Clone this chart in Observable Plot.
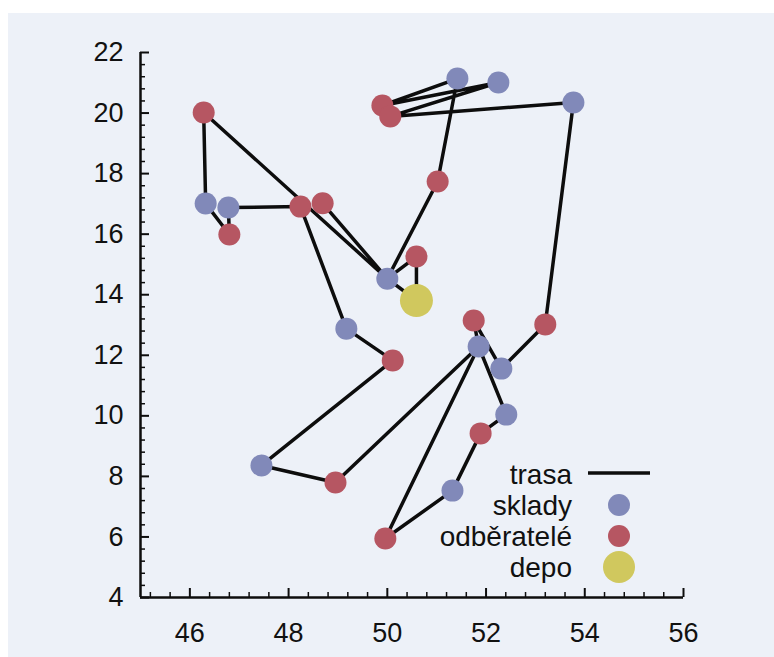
<!DOCTYPE html>
<html><head><meta charset="utf-8">
<script src="https://cdn.jsdelivr.net/npm/d3@7"></script>
<script src="https://cdn.jsdelivr.net/npm/@observablehq/plot@0.6"></script>
<style>
body{margin:0;background:#fff;}
#wrap{position:relative;width:774px;height:657px;background:#fff;overflow:hidden;font-family:'Liberation Sans',Arial,sans-serif;}
#panel{position:absolute;left:8px;top:13px;width:766px;height:644px;background:#edf1f8;}
.lrow{position:absolute;left:380px;width:192px;height:31px;line-height:31px;font-size:28px;text-align:right;color:#111;white-space:nowrap;}
.lsym{position:absolute;left:586px;width:66px;height:31px;}
</style></head><body>
<div id="wrap"><div id="panel"></div></div>
<script>
// sklady (warehouses)
const skladyX = [51.42, 52.25, 53.77, 46.32, 46.78, 50.00, 49.17, 51.85, 52.31, 52.41, 47.45, 51.32];
const skladyY = [21.14, 21.01, 20.35, 17.01, 16.88, 14.53, 12.88, 12.29, 11.56, 10.04, 8.36, 7.53];
// odběratelé (customers)
const odberateleX = [46.28, 49.90, 50.06, 51.02, 48.24, 48.69, 46.80, 50.59, 51.75, 53.20, 50.11, 51.89, 48.95, 49.96];
const odberateleY = [20.02, 20.25, 19.89, 17.74, 16.91, 17.02, 15.99, 15.26, 13.15, 13.02, 11.83, 9.42, 7.80, 5.95];
// depo
const depoX = [50.59];
const depoY = [13.81];
// trasa (route order)
const trasa = ["D","C8","S6","C4","S1","C2","S2","C3","S3","C10","S9","C9","S8","S10","C12","S12","C14","S8","C13","S11","C11","S7","C5","S5","C7","S4","C1","S6","C6","S6","D"];
// ticks
const xTicks = [46, 48, 50, 52, 54, 56];
const yTicks = [4, 6, 8, 10, 12, 14, 16, 18, 20, 22];
const minorStep = 0.4;
const legendLabels = ["trasa", "sklady", "odběratelé", "depo"];

const colS = "#8189b9", colC = "#b65662", colD = "#d0c85e", colL = "#0d0d0d";

const sklady = skladyX.map((x, i) => ({id: "S" + (i + 1), x, y: skladyY[i]}));
const odberatele = odberateleX.map((x, i) => ({id: "C" + (i + 1), x, y: odberateleY[i]}));
const depo = depoX.map((x, i) => ({id: "D", x, y: depoY[i]}));
const nodes = new Map([...sklady, ...odberatele, ...depo].map(d => [d.id, d]));
const route = trasa.map(id => nodes.get(id));

function minors(lo, hi, base) {
  const out = [];
  for (let v = base; v <= hi + 1e-9; v += minorStep) {
    const r = +v.toFixed(2);
    if (r >= lo - 1e-9 && Math.abs(r - Math.round(r / 2) * 2) > 1e-6) out.push(r);
  }
  return out;
}
const mx = minors(45, 56, 44.0);
const my = minors(4, 22, 4.0);

const plot = Plot.plot({
  width: 766, height: 644,
  marginLeft: 132, marginTop: 39, marginBottom: 60, marginRight: 91,
  x: {domain: [45, 56]},
  y: {domain: [4, 22]},
  style: {background: "transparent", fontFamily: "'Liberation Sans', Arial, sans-serif", fontSize: "27px", color: "#111"},
  marks: [
    Plot.axisX({ticks: mx, tickSize: 5, dy: -5, tickFormat: () => "", stroke: colL, strokeWidth: 1.5, label: null}),
    Plot.axisX({ticks: xTicks, tickSize: 9, dy: -9, tickFormat: () => "", stroke: colL, strokeWidth: 2, label: null}),
    Plot.axisY({ticks: my, tickSize: 5, dx: 5, tickFormat: () => "", stroke: colL, strokeWidth: 1.5, label: null}),
    Plot.axisY({ticks: yTicks, tickSize: 9, dx: 9, tickFormat: () => "", stroke: colL, strokeWidth: 2, label: null}),
    Plot.axisX({ticks: xTicks, tickSize: 0, tickPadding: 25, fontSize: 27, label: null, fill: "#111"}),
    Plot.axisY({ticks: yTicks, tickSize: 0, tickPadding: 17, fontSize: 27, label: null, fill: "#111"}),
    Plot.ruleX([45], {stroke: colL, strokeWidth: 2.5}),
    Plot.ruleY([4], {stroke: colL, strokeWidth: 2.5}),
    Plot.line(route, {x: "x", y: "y", stroke: colL, strokeWidth: 3.5, strokeLinejoin: "round"}),
    Plot.dot(sklady, {x: "x", y: "y", r: 11, fill: colS}),
    Plot.dot(odberatele, {x: "x", y: "y", r: 11, fill: colC}),
    Plot.dot(depo, {x: "x", y: "y", r: 16.5, fill: colD})
  ]
});
document.getElementById("panel").appendChild(plot);

// legend
const wrap = document.getElementById("wrap");
const rowTops = [459, 490, 521, 552];
legendLabels.forEach((lab, i) => {
  const t = document.createElement("div");
  t.className = "lrow";
  t.style.top = rowTops[i] + "px";
  t.textContent = lab;
  wrap.appendChild(t);
  const s = document.createElement("div");
  s.className = "lsym";
  s.style.top = rowTops[i] + "px";
  let svg;
  if (i === 0) svg = `<svg width="66" height="31"><line x1="2" x2="64" y1="14" y2="14" stroke="${colL}" stroke-width="3.5"/></svg>`;
  else if (i === 1) svg = `<svg width="66" height="31"><circle cx="33" cy="15" r="11" fill="${colS}"/></svg>`;
  else if (i === 2) svg = `<svg width="66" height="31"><circle cx="33" cy="15" r="11" fill="${colC}"/></svg>`;
  else svg = `<svg width="66" height="31" style="overflow:visible"><circle cx="33" cy="15" r="16" fill="${colD}"/></svg>`;
  s.innerHTML = svg;
  wrap.appendChild(s);
});
</script>
</body></html>
